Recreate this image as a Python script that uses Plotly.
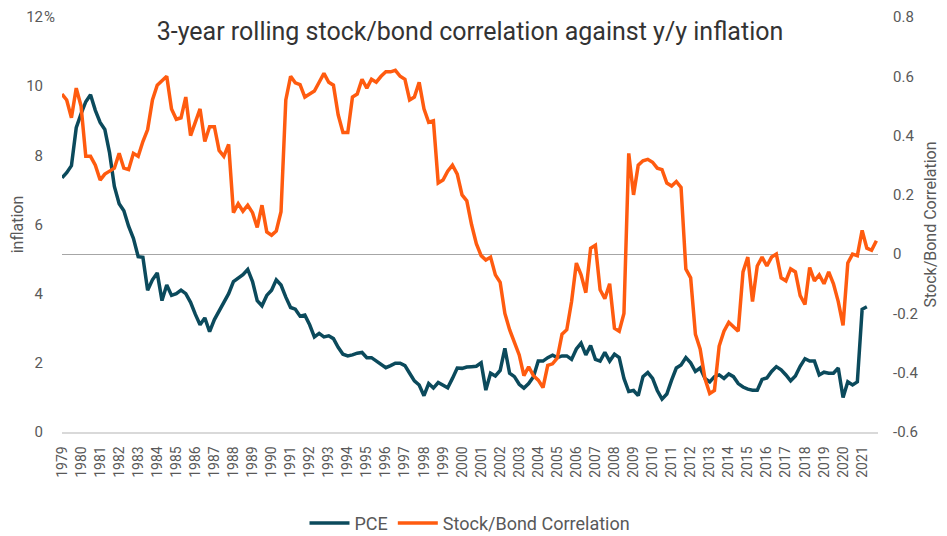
import pandas as pd
import plotly.graph_objects as go

# quarterly readings, Q1 1979 onwards
pce = [
    7.35, 7.5, 7.7, 8.8,
    9.2, 9.55, 9.75, 9.3,
    8.95, 8.75, 8.07, 7.1,
    6.6, 6.4, 5.95, 5.6,
    5.07, 5.05, 4.1, 4.4,
    4.6, 3.8, 4.25, 3.95,
    4.0, 4.1, 4.0, 3.75,
    3.4, 3.1, 3.3, 2.9,
    3.25, 3.5, 3.7, 4.0,
    4.35, 4.45, 4.55, 4.7,
    4.35, 3.8, 3.65, 3.95,
    4.1, 4.4, 4.25, 3.9,
    3.6, 3.55, 3.35, 3.38,
    3.1, 2.75, 2.85, 2.75,
    2.78, 2.7, 2.45, 2.25,
    2.2, 2.23, 2.28, 2.3,
    2.15, 2.15, 2.05, 1.94,
    1.86, 1.92, 1.99, 1.99,
    1.92, 1.7, 1.48, 1.36,
    1.05, 1.4, 1.27, 1.43,
    1.36, 1.28, 1.55, 1.85,
    1.84, 1.88, 1.89, 1.9,
    2.0, 1.21, 1.7, 1.62,
    1.78, 2.42, 1.7, 1.6,
    1.38, 1.27, 1.4, 1.6,
    2.05, 2.05, 2.15, 2.22,
    2.15, 2.2, 2.2, 2.1,
    2.4, 2.57, 2.23, 2.5,
    2.1, 2.05, 2.3, 2.05,
    2.25, 2.15, 1.55, 1.17,
    1.2, 1.05, 1.6, 1.72,
    1.55, 1.2, 0.95, 1.1,
    1.5, 1.85, 1.94, 2.15,
    2.0, 1.75, 1.85, 1.55,
    1.45, 1.6, 1.65, 1.55,
    1.68, 1.6, 1.4, 1.3,
    1.24, 1.21, 1.21, 1.52,
    1.56, 1.75, 1.89, 1.8,
    1.65, 1.48, 1.62, 1.9,
    2.12, 2.05, 2.05, 1.65,
    1.73, 1.7, 1.7, 1.85,
    1.0, 1.45, 1.36, 1.45,
    3.55, 3.62,
]

corr = [
    0.54, 0.52, 0.46, 0.56,
    0.5, 0.33, 0.33, 0.3,
    0.25, 0.27, 0.28, 0.29,
    0.34, 0.29, 0.285, 0.34,
    0.33, 0.38, 0.42, 0.52,
    0.57, 0.585, 0.6, 0.49,
    0.455, 0.46, 0.53, 0.40,
    0.45, 0.49, 0.38, 0.43,
    0.43, 0.35, 0.33, 0.37,
    0.14, 0.17, 0.145, 0.165,
    0.14, 0.09, 0.165, 0.075,
    0.064, 0.078, 0.143, 0.52,
    0.6, 0.578, 0.572, 0.53,
    0.54, 0.55, 0.58, 0.61,
    0.58, 0.57, 0.47, 0.41,
    0.41, 0.53, 0.54, 0.59,
    0.56, 0.59, 0.58, 0.6,
    0.615, 0.615, 0.62, 0.6,
    0.59, 0.52, 0.53, 0.58,
    0.49, 0.445, 0.45, 0.24,
    0.25, 0.28, 0.3, 0.27,
    0.2, 0.18, 0.1, 0.035,
    -0.005, -0.02, -0.01, -0.07,
    -0.095, -0.2, -0.255, -0.3,
    -0.34, -0.41, -0.38, -0.41,
    -0.425, -0.45, -0.375, -0.37,
    -0.35, -0.27, -0.255, -0.16,
    -0.03, -0.07, -0.13, 0.02,
    0.03, -0.12, -0.15, -0.1,
    -0.25, -0.26, -0.2, 0.34,
    0.2, 0.3, 0.315, 0.32,
    0.31, 0.29, 0.285, 0.24,
    0.23, 0.245, 0.225, -0.05,
    -0.08, -0.27, -0.32, -0.42,
    -0.47, -0.46, -0.31, -0.26,
    -0.23, -0.245, -0.26, -0.06,
    -0.01, -0.16, -0.04, -0.01,
    -0.04, -0.01, 0.0, -0.08,
    -0.09, -0.05, -0.06, -0.14,
    -0.17, -0.045, -0.09, -0.07,
    -0.1, -0.06, -0.1, -0.16,
    -0.24, -0.03, 0.0, -0.005,
    0.08, 0.02, 0.013, 0.045,
]

pce_dates = pd.date_range("1979-01-01", periods=len(pce), freq="QS")
corr_dates = pd.date_range("1979-01-01", periods=len(corr), freq="QS")

TEAL = "#0B4A5C"
ORANGE = "#FF5B0F"
GREY_TXT = "#595959"
FONT = "Roboto"

fig = go.Figure()
fig.add_trace(go.Scatter(x=pce_dates, y=pce, name="PCE", mode="lines",
                         line=dict(color=TEAL, width=3.5)))
fig.add_trace(go.Scatter(x=corr_dates, y=corr, name="Stock/Bond Correlation", mode="lines",
                         line=dict(color=ORANGE, width=3.5), yaxis="y2"))

# page body has an 8px margin, so the figure is a bit smaller than the window
fig.update_layout(
    width=939, height=528,
    margin=dict(l=54, r=69, t=9, b=104, autoexpand=False),
    paper_bgcolor="white", plot_bgcolor="white",
    font=dict(family=FONT, color=GREY_TXT, size=14),
    title=dict(text="3-year rolling stock/bond correlation against y/y inflation",
               x=0.492, xanchor="center", yref="container", y=0.956, yanchor="middle",
               font=dict(size=25, color="#333333", family=FONT)),
    xaxis=dict(type="date", range=["1979-01-01", "2021-11-01"], automargin=False,
               dtick="M12", tick0="1979-01-01", tickformat="%Y", tickangle=-90,
               showgrid=False, showline=True, linecolor="#D9D9D9", linewidth=1.5,
               ticks="", ticklabelstandoff=7, tickfont=dict(size=14, color=GREY_TXT)),
    yaxis=dict(range=[0, 12], tickvals=[0, 2, 4, 6, 8, 10, 12], automargin=False,
               showgrid=False, zeroline=False, ticklabelstandoff=18,
               title=dict(text="inflation", standoff=2, font=dict(size=16, color=GREY_TXT)),
               tickfont=dict(size=15, color=GREY_TXT)),
    yaxis2=dict(range=[-0.6, 0.8], tickvals=[-0.6, -0.4, -0.2, 0, 0.2, 0.4, 0.6, 0.8],
                ticktext=["-0.6", "-0.4", "-0.2", "0", "0.2", "0.4", "0.6", "0.8"],
                overlaying="y", side="right", showgrid=False, automargin=False,
                zeroline=True, zerolinecolor="#A6A6A6", zerolinewidth=1,
                ticklabelstandoff=14,
                title=dict(text="Stock/Bond Correlation", standoff=7,
                           font=dict(size=16, color=GREY_TXT)),
                tickfont=dict(size=15, color=GREY_TXT)),
    legend=dict(orientation="h", x=0.5, xanchor="center", y=-0.22, yanchor="middle",
                font=dict(size=18, color=GREY_TXT), itemwidth=40),
    showlegend=True,
)

fig.add_annotation(text="%", xref="paper", yref="y", x=0, y=12, xanchor="left",
                   yanchor="middle", xshift=-20, showarrow=False,
                   font=dict(size=15, color=GREY_TXT))

fig.write_html("out.html")
